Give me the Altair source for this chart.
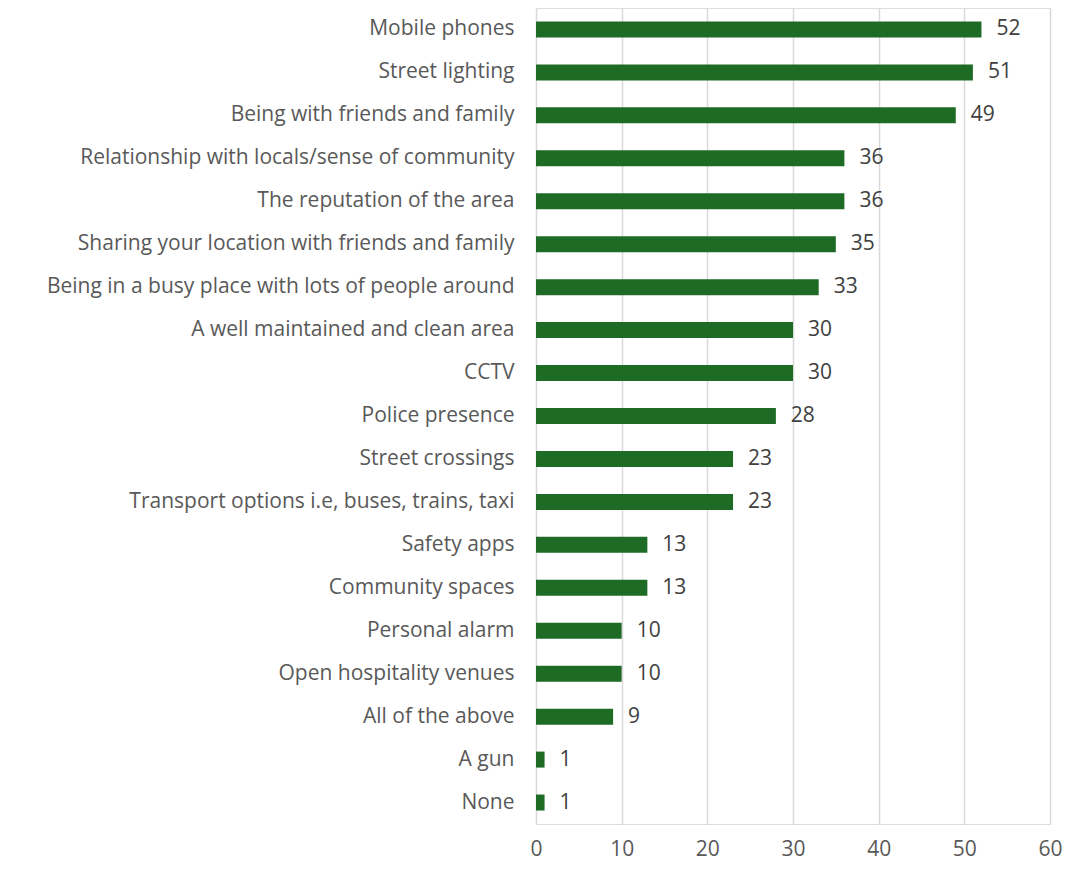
import altair as alt
import pandas as pd

categories = [
    "Mobile phones",
    "Street lighting",
    "Being with friends and family",
    "Relationship with locals/sense of community",
    "The reputation of the area",
    "Sharing your location with friends and family",
    "Being in a busy place with lots of people around",
    "A well maintained and clean area",
    "CCTV",
    "Police presence",
    "Street crossings",
    "Transport options i.e, buses, trains, taxi",
    "Safety apps",
    "Community spaces",
    "Personal alarm",
    "Open hospitality venues",
    "All of the above",
    "A gun ",
    "None",
]
values = [52, 51, 49, 36, 36, 35, 33, 30, 30, 28, 23, 23, 13, 13, 10, 10, 9, 1, 1]
x_ticks = [0, 10, 20, 30, 40, 50, 60]

df = pd.DataFrame({"category": categories, "value": values})

FONT = "Open Sans"
FS = 21

y = alt.Y(
    "category:N",
    sort=categories,
    title=None,
    scale=alt.Scale(paddingInner=0.63, paddingOuter=0.315),
    axis=alt.Axis(
        ticks=False,
        domain=False,
        labelFont=FONT,
        labelFontSize=FS,
        labelColor="#595959",
        labelPadding=22,
        labelLimit=600,
    ),
)
x = alt.X(
    "value:Q",
    title=None,
    scale=alt.Scale(domain=[0, 60], nice=False),
    axis=alt.Axis(
        values=x_ticks,
        ticks=False,
        domain=False,
        grid=True,
        gridColor="#d9d9d9",
        gridWidth=1.5,
        labelFont=FONT,
        labelFontSize=FS,
        labelColor="#595959",
        labelPadding=14,
        labelFlush=False,
    ),
)

bars = alt.Chart(df).mark_bar(color="#1e6b26", size=16).encode(x=x, y=y)
labels = alt.Chart(df).mark_text(
    align="left", baseline="middle", dx=15, font=FONT, fontSize=FS, color="#404040"
).encode(x=alt.X("value:Q"), y=alt.Y("category:N", sort=categories), text="value:Q")

chart = (
    alt.layer(bars, labels)
    .properties(
        width=514,
        height=816,
        padding={"left": 528, "top": 0, "right": 20, "bottom": 36},
        autosize=alt.AutoSizeParams(type="none"),
    )
    .configure_view(stroke=None)
    .configure(background="white")
)

chart.save("out.html", embed_options={"renderer": "svg", "actions": False})
